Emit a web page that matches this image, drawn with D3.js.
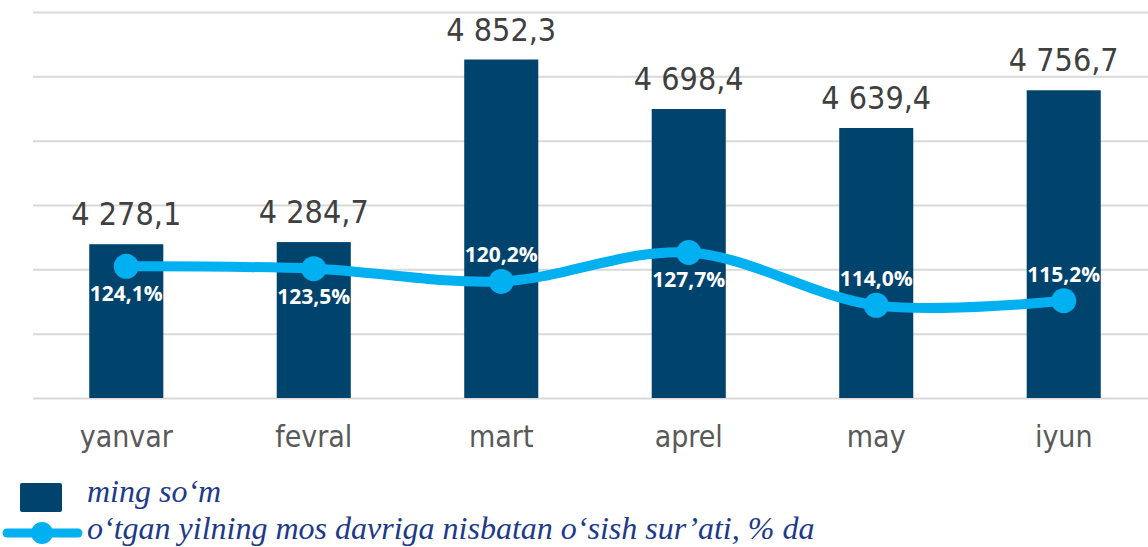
<!DOCTYPE html>
<html>
<head>
<meta charset="utf-8">
<script src="https://cdn.jsdelivr.net/npm/d3@7"></script>
<style>
  body { margin: 0; background: #fff; }
  svg { display: block; }
  .grid line { stroke: #d9d9d9; stroke-width: 2; }
  .value-label { font-family: "DejaVu Sans Condensed", "DejaVu Sans", sans-serif; font-size: 32px; fill: #404040; }
  .cat-label { font-family: "DejaVu Sans Condensed", "DejaVu Sans", sans-serif; font-size: 30px; fill: #595959; }
  .pct-label { font-family: "Open Sans", sans-serif; font-weight: 700; font-size: 21px; fill: #fff; }
  .legend-text { font-family: "Liberation Serif", serif; font-style: italic; font-size: 32px; fill: #1d3a8a; }
</style>
</head>
<body>
<svg width="1148" height="547"></svg>
<script>
const months = ["yanvar", "fevral", "mart", "aprel", "may", "iyun"]
const amounts = [4278.1, 4284.7, 4852.3, 4698.4, 4639.4, 4756.7]
const growth = [124.1, 123.5, 120.2, 127.7, 114.0, 115.2]
const growthLabelSide = ["below", "below", "above", "below", "above", "above"]
const gridTicks = [3800, 4000, 4200, 4400, 4600, 4800, 5000]
const legendBar = "ming so\u2018m"
const legendLine = "o\u2018tgan yilning mos davriga nisbatan o\u2018sish sur\u2019ati, % da"

const svg = d3.select("svg")
const width = +svg.attr("width")

const plot = { left: 33, right: 1157, top: 12, bottom: 398 }

const xScale = d3.scaleBand()
  .domain(months)
  .range([plot.left, plot.right])
  .paddingInner(0.605)
  .paddingOuter(0.3)

const yBar = d3.scaleLinear().domain([3800, 5000]).range([plot.bottom, plot.top])
const yLine = d3.scaleLinear().domain([90, 190]).range([plot.bottom, plot.top])

const fmtNum = (v) => {
  const s = d3.format(",.1f")(v)
  return s.replace(",", " ").replace(".", ",")
}
const fmtPct = (v) => d3.format(".1f")(v).replace(".", ",") + "%"

// grid
const yAxis = d3.axisLeft(yBar)
  .tickValues(gridTicks)
  .tickSize(-(width - plot.left))
  .tickFormat("")
svg.append("g")
  .attr("class", "grid")
  .attr("transform", `translate(${plot.left},0)`)
  .call(yAxis)
  .call((g) => g.select(".domain").remove())

// bars
svg.append("g")
  .selectAll("rect")
  .data(months)
  .join("rect")
  .attr("x", (d) => xScale(d))
  .attr("width", xScale.bandwidth())
  .attr("y", (d, i) => yBar(amounts[i]))
  .attr("height", (d, i) => plot.bottom - yBar(amounts[i]))
  .attr("fill", "#00446e")

// bar value labels
svg.append("g")
  .selectAll("text")
  .data(months)
  .join("text")
  .attr("class", "value-label")
  .attr("x", (d) => xScale(d) + xScale.bandwidth() / 2)
  .attr("y", (d, i) => yBar(amounts[i]) - 19)
  .attr("text-anchor", "middle")
  .text((d, i) => fmtNum(amounts[i]))

// x axis labels
const xAxis = d3.axisBottom(xScale).tickSize(0).tickPadding(0)
svg.append("g")
  .attr("transform", `translate(0,${plot.bottom})`)
  .call(xAxis)
  .call((g) => g.select(".domain").remove())
  .selectAll("text")
  .attr("class", "cat-label")
  .attr("font-family", null)
  .attr("font-size", null)
  .attr("fill", null)
  .attr("dy", null)
  .attr("y", 49)

// growth line
const cx = (i) => xScale(months[i]) + xScale.bandwidth() / 2
const line = d3.line()
  .x((d, i) => cx(i))
  .y((d) => yLine(d))
  .curve(d3.curveCardinal.tension(0))

svg.append("path")
  .datum(growth)
  .attr("d", line)
  .attr("fill", "none")
  .attr("stroke", "#00b0f0")
  .attr("stroke-width", 10)

svg.append("g")
  .selectAll("circle")
  .data(growth)
  .join("circle")
  .attr("cx", (d, i) => cx(i))
  .attr("cy", (d) => yLine(d))
  .attr("r", 12.5)
  .attr("fill", "#00b0f0")

svg.append("g")
  .selectAll("text")
  .data(growth)
  .join("text")
  .attr("class", "pct-label")
  .attr("x", (d, i) => cx(i))
  .attr("y", (d, i) => yLine(d) + (growthLabelSide[i] === "below" ? 35 : -19))
  .attr("text-anchor", "middle")
  .text((d) => fmtPct(d))

// legend
const legend = svg.append("g")
legend.append("rect")
  .attr("x", 20).attr("y", 483)
  .attr("width", 42).attr("height", 29)
  .attr("rx", 2)
  .attr("fill", "#00446e")
legend.append("text")
  .attr("class", "legend-text")
  .attr("x", 87).attr("y", 502)
  .text(legendBar)

legend.append("line")
  .attr("x1", 7).attr("x2", 78)
  .attr("y1", 533).attr("y2", 533)
  .attr("stroke", "#00b0f0")
  .attr("stroke-width", 9)
  .attr("stroke-linecap", "round")
legend.append("circle")
  .attr("cx", 42).attr("cy", 533)
  .attr("r", 11)
  .attr("fill", "#00b0f0")
legend.append("text")
  .attr("class", "legend-text")
  .attr("x", 87).attr("y", 539)
  .text(legendLine)
</script>
</body>
</html>
